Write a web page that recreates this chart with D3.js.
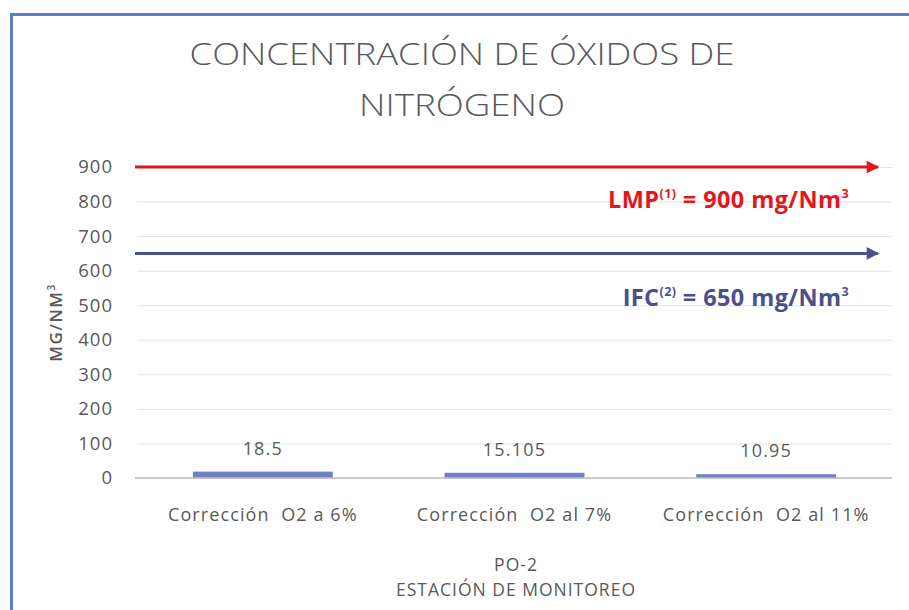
<!DOCTYPE html>
<html>
<head>
<meta charset="utf-8">
<script src="https://cdn.jsdelivr.net/npm/d3@7"></script>
<style>
  html, body { margin: 0; padding: 0; background: #fff; }
  svg { display: block; }
  svg text { font-family: "Open Sans", "Noto Sans", sans-serif; }
</style>
</head>
<body>
<script>
const WIDTH = 909;
const HEIGHT = 610;

// chart data
var categories = ['Corrección  O2 a 6%', 'Corrección  O2 al 7%', 'Corrección  O2 al 11%'];
var values = [18.5, 15.105, 10.95];
var valueLabels = ['18.5', '15.105', '10.95'];
var yTicks = [0, 100, 200, 300, 400, 500, 600, 700, 800, 900];
var limitValues = [900, 650];
var limitNames = ['LMP', 'IFC'];
var limitRefs = ['(1)', '(2)'];
var limitColors = ['#e3161d', '#4c4f8e'];
var titleLines = ['CONCENTRACIÓN DE ÓXIDOS DE', 'NITRÓGENO'];
var xTitleLines = ['PO-2', 'ESTACIÓN DE MONITOREO'];

var margin = {left: 137, right: 17, top: 167, bottom: 132};
var labelDrop = [41, 53];

var svg = d3.select('body').append('svg')
    .attr('width', WIDTH)
    .attr('height', HEIGHT);

// frame
svg.append('rect').attr('width', WIDTH).attr('height', HEIGHT).attr('fill', '#fff');
svg.append('path')
    .attr('d', 'M11.5,' + HEIGHT + 'V14.5H' + WIDTH)
    .attr('fill', 'none')
    .attr('stroke', '#5a7ec0')
    .attr('stroke-width', 3);

var x = d3.scaleBand()
    .domain(categories)
    .range([margin.left, WIDTH - margin.right])
    .paddingInner(0.444)
    .paddingOuter(0.222);

var y = d3.scaleLinear()
    .domain([0, 900])
    .range([HEIGHT - margin.bottom, margin.top]);

// title (the picture is a little stretched sideways)
var titleWidths = [545, 206];
svg.selectAll('.title')
    .data(titleLines)
    .enter()
    .append('text')
    .attr('class', 'title')
    .attr('x', 462)
    .attr('y', function(d, i) { return 65 + i * 51; })
    .attr('text-anchor', 'middle')
    .attr('font-size', 31.5)
    .attr('font-weight', 300)
    .attr('fill', '#595959')
    .attr('textLength', function(d, i) { return titleWidths[i]; })
    .attr('lengthAdjust', 'spacingAndGlyphs')
    .text(function(d) { return d; });

// gridlines + y labels
var yAxis = d3.axisLeft(y)
    .tickValues(yTicks)
    .tickSize(-(WIDTH - margin.right - margin.left))
    .tickPadding(24);

var gy = svg.append('g')
    .attr('transform', 'translate(' + margin.left + ',0)')
    .call(yAxis)
    .attr('font-family', null);
gy.select('.domain').remove();
gy.selectAll('line').attr('stroke', '#e3e3e3');
gy.selectAll('text')
    .attr('fill', '#595959')
    .attr('font-size', 18.5)
    .attr('letter-spacing', 1);

// bars
svg.selectAll('.bar')
    .data(values)
    .enter()
    .append('rect')
    .attr('class', 'bar')
    .attr('x', function(d, i) { return x(categories[i]); })
    .attr('y', function(d) { return y(d); })
    .attr('width', x.bandwidth())
    .attr('height', function(d) { return y(0) - y(d); })
    .attr('fill', '#7080c2');

// baseline
svg.append('line')
    .attr('x1', margin.left - 2)
    .attr('x2', WIDTH - margin.right)
    .attr('y1', y(0))
    .attr('y2', y(0))
    .attr('stroke', '#bfbfbf')
    .attr('stroke-width', 1.5);

// value labels
svg.selectAll('.vlabel')
    .data(values)
    .enter()
    .append('text')
    .attr('class', 'vlabel')
    .attr('x', function(d, i) { return x(categories[i]) + x.bandwidth() / 2; })
    .attr('y', function(d) { return y(d) - 17; })
    .attr('text-anchor', 'middle')
    .attr('font-size', 18)
    .attr('letter-spacing', 1.2)
    .attr('fill', '#595959')
    .text(function(d, i) { return valueLabels[i]; });

// category labels
var xAxis = d3.axisBottom(x).tickSize(0).tickPadding(30);
var gx = svg.append('g')
    .attr('transform', 'translate(0,' + y(0) + ')')
    .call(xAxis)
    .attr('font-family', null);
gx.select('.domain').remove();
gx.selectAll('text')
    .attr('fill', '#595959')
    .attr('font-size', 18)
    .attr('letter-spacing', 1.1)
    .style('white-space', 'pre');

// axis titles
svg.selectAll('.xtitle')
    .data(xTitleLines)
    .enter()
    .append('text')
    .attr('class', 'xtitle')
    .attr('x', 516)
    .attr('y', function(d, i) { return 571 + i * 25; })
    .attr('text-anchor', 'middle')
    .attr('font-size', 17.5)
    .attr('letter-spacing', 1)
    .attr('fill', '#595959')
    .text(function(d) { return d; });

var ytitle = svg.append('text')
    .attr('transform', 'translate(62,' + (y(0) + y(900)) / 2 + ') rotate(-90)')
    .attr('text-anchor', 'middle')
    .attr('font-size', 17)
    .attr('font-weight', 600)
    .attr('letter-spacing', 1.5)
    .attr('fill', '#595959');
ytitle.append('tspan').text('MG/NM');
ytitle.append('tspan').attr('font-size', 10).attr('dy', -7).text('3');

// limit arrows
var defs = svg.append('defs');
limitColors.forEach(function(c, i) {
    defs.append('marker')
        .attr('id', 'arrow' + i)
        .attr('viewBox', '0 0 10 10')
        .attr('refX', 9)
        .attr('refY', 5)
        .attr('markerWidth', 5)
        .attr('markerHeight', 4.2)
        .attr('orient', 'auto')
        .attr('markerUnits', 'strokeWidth')
        .append('path')
        .attr('d', 'M0,0L10,5L0,10z')
        .attr('fill', c);
});

svg.selectAll('.limit')
    .data(limitValues)
    .enter()
    .append('line')
    .attr('class', 'limit')
    .attr('x1', margin.left - 2)
    .attr('x2', 878)
    .attr('y1', function(d) { return y(d); })
    .attr('y2', function(d) { return y(d); })
    .attr('stroke', function(d, i) { return limitColors[i]; })
    .attr('stroke-width', 3)
    .attr('marker-end', function(d, i) { return 'url(#arrow' + i + ')'; });

var lt = svg.selectAll('.ltext')
    .data(limitValues)
    .enter()
    .append('text')
    .attr('class', 'ltext')
    .attr('x', 849)
    .attr('y', function(d, i) { return y(d) + labelDrop[i]; })
    .attr('text-anchor', 'end')
    .attr('font-size', 23.5)
    .attr('font-weight', 700)
    .attr('letter-spacing', 0.4)
    .attr('fill', function(d, i) { return limitColors[i]; });
lt.append('tspan').text(function(d, i) { return limitNames[i]; });
lt.append('tspan').attr('font-size', 12.5).attr('dy', -10).text(function(d, i) { return limitRefs[i]; });
lt.append('tspan').attr('dy', 10).text(function(d) { return ' = ' + d + ' mg/Nm'; });
lt.append('tspan').attr('font-size', 12.5).attr('dy', -10).text('3');
</script>
</body>
</html>
